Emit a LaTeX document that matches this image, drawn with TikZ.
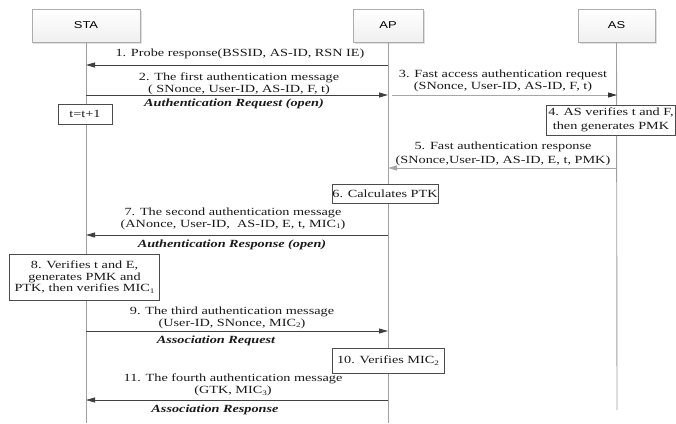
\documentclass[tikz,border=0pt]{standalone}
\usepackage{fontspec}
\setmainfont{Liberation Serif}[FakeStretch=1.3]
\newfontfamily\hdrfont{Liberation Sans}[FakeStretch=1.3]
\usetikzlibrary{arrows.meta,shadows}
\begin{document}
\begin{tikzpicture}[x=1bp,y=-1bp,
  hdr/.style={draw=gray!65, top color=white, bottom color=gray!12, minimum height=33bp,
    font=\hdrfont\fontsize{10}{12}\selectfont,
    drop shadow={shadow xshift=1.5bp,shadow yshift=-1.5bp,fill=gray!40,opacity=0.6}},
  life/.style={draw=gray!75, line width=0.9bp},
  msg/.style={draw=black!75, line width=0.8bp, -{Triangle[length=9bp,width=5bp]}},
  msgdk/.style={draw=gray!70, line width=0.8bp, -{Triangle[length=9bp,width=5bp,color=black!80]}},
  msglt/.style={draw=gray!70, line width=0.8bp, -{Triangle[length=9bp,width=5bp]}},
  lbl/.style={font=\fontsize{11}{12}\selectfont, align=center, inner sep=0pt, text=black!90},
  tag/.style={lbl, font=\fontsize{11}{12}\selectfont\bfseries\itshape},
  act/.style={draw=black!70, fill=white, line width=0.8bp, font=\fontsize{11}{12}\selectfont,
    align=center, inner sep=0pt, text=black!90}
]
\useasboundingbox (0,0) rectangle (676,423);
% headers
\node[hdr, minimum width=108bp] (STA) at (86,25.5) {STA};
\node[hdr, minimum width=70bp] (AP) at (388,25.5) {AP};
\node[hdr, minimum width=77bp] (AS) at (616.5,25.5) {AS};
% lifelines
\coordinate (STAend) at (86,423);
\coordinate (APend) at (388,423);
\coordinate (ASend) at (617,410);
\draw[life] (STA.south) -- (STAend);
\draw[life] (AP.south) -- (APend);
\draw[life] (AS.south) -- (ASend);
% message end points
\coordinate (m1a) at (388,65);  \coordinate (m1s) at (86,65);
\coordinate (m2s) at (86,95);   \coordinate (m2a) at (388,95);
\coordinate (m3a) at (392,95);  \coordinate (m3b) at (617,95);
\coordinate (m5b) at (617,168); \coordinate (m5a) at (388,168);
\coordinate (m7a) at (388,235); \coordinate (m7s) at (86,235);
\coordinate (m9s) at (86,331);  \coordinate (m9a) at (388,331);
\coordinate (m11a) at (388,400); \coordinate (m11s) at (86,400);
% messages
\draw[msg] (m1a) -- (m1s);
\draw[msg] (m2s) -- (m2a);
\draw[msgdk] (m3a) -- (m3b);
\draw[msglt] (m5b) -- (m5a);
\draw[msg] (m7a) -- (m7s);
\draw[msg] (m9s) -- (m9a);
\draw[msg] (m11a) -- (m11s);
% labels
\node[lbl] (l1) at (240,54) {1. Probe response(BSSID, AS-ID, RSN IE)};
\node[lbl] (l2) at (239,83.5) {2. The first authentication message\\( SNonce, User-ID, AS-ID, F, t)};
\node[tag] (t2) at (234,104) {Authentication Request (open)};
\node[lbl] (l3) at (503,81) {3. Fast access authentication request\\(SNonce, User-ID, AS-ID, F, t)};
\node[lbl] (l5) at (503,154) {5. Fast authentication response\\[2bp](SNonce,User-ID, AS-ID, E, t, PMK)};
\node[lbl] (l7) at (233,218.5) {7. The second authentication message\\(ANonce, User-ID,\ \ AS-ID, E, t, MIC{\fontsize{7}{8}\selectfont\raisebox{-1.5bp}{1}})};
\node[tag] (t7) at (232,245) {Authentication Response (open)};
\node[lbl] (l9) at (232,317.5) {9. The third authentication message\\(User-ID, SNonce, MIC{\fontsize{7}{8}\selectfont\raisebox{-1.5bp}{2}})};
\node[tag] (t9) at (216,341) {Association Request};
\node[lbl] (l11) at (233,385) {11. The fourth authentication message\\(GTK, MIC{\fontsize{7}{8}\selectfont\raisebox{-1.5bp}{3}})};
\node[tag] (t11) at (215,410) {Association Response};
% action boxes
\node[act, minimum width=54bp, minimum height=20bp] (tt) at (85,114) {t=t+1};
\node[act, minimum width=129bp, minimum height=30bp] (b4) at (611,120) {4. AS verifies t and F,\\[2bp]then generates PMK};
\node[act, minimum width=106bp, minimum height=19bp] (b6) at (385,193.5) {6. Calculates PTK};
\node[act, minimum width=150bp, minimum height=46bp] (b8) at (84.5,277) {8. Verifies t and E,\\generates PMK and\\PTK, then verifies MIC{\fontsize{7}{8}\selectfont\raisebox{-1.5bp}{1}}};
\node[act, minimum width=112bp, minimum height=25bp] (b10) at (388,360.5) {10. Verifies MIC{\fontsize{7}{8}\selectfont\raisebox{-1.5bp}{2}}};
\end{tikzpicture}
\end{document}
